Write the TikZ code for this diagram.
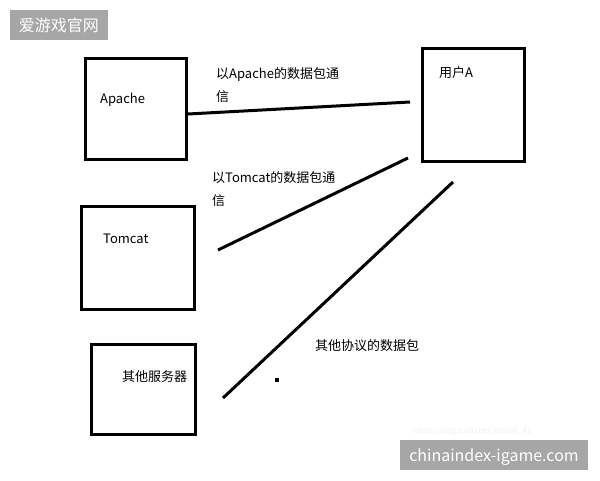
\documentclass[tikz,border=0pt]{standalone}
\usepackage{fontspec}
\setmainfont{Noto Sans CJK SC}

\begin{document}
\begin{tikzpicture}[
            x = 1pt, y = -1pt,
            every node/.style={text depth=0pt, inner sep=0pt},
            box/.style={draw, line width = 3pt, rectangle},
            line/.style={line width = 3pt},
            txt/.style={anchor=west, align=left, font=\fontsize{13}{23}\selectfont},
            stamp/.style={fill=black!35, text=white, inner sep=0pt},
            ]

        \useasboundingbox (0, 0) rectangle (600, 480);

        % servers and user
        \node[box, minimum width=101pt, minimum height=101pt] (apache) at (135.5, 108.5) {};
        \node[box, minimum width=102pt, minimum height=113pt] (user) at (473, 104.5) {};
        \node[box, minimum width=113pt, minimum height=103pt] (tomcat) at (137.5, 257.5) {};
        \node[box, minimum width=104pt, minimum height=90pt] (other) at (143, 389) {};

        \node[txt] (apache-name) at (100, 98) {Apache};
        \node[txt] (user-name) at (439, 72) {用户A};
        \node[txt] (tomcat-name) at (103, 239) {Tomcat};
        \node[txt] (other-name) at (122, 376) {其他服务器};

        % links
        \coordinate (a1) at (188, 114);
        \coordinate (a2) at (410, 102);
        \coordinate (t1) at (218, 250);
        \coordinate (t2) at (408, 158);
        \coordinate (o1) at (223, 398);
        \coordinate (o2) at (453, 182);

        \draw[line] (a1) -- (a2);
        \draw[line] (t1) -- (t2);
        \draw[line] (o1) -- (o2);

        \node[txt, anchor=north west] (apache-msg) at (216, 67) {以Apache的数据包通\\信};
        \node[txt, anchor=north west] (tomcat-msg) at (212, 171) {以Tomcat的数据包通\\信};
        \node[txt] (other-msg) at (315, 345) {其他协议的数据包};

        \node[fill, minimum size=4pt] (dot) at (277, 380) {};

        % watermarks
        \node[anchor=west, text=black!6, font=\fontsize{8}{8}\selectfont] (url) at (412, 430) {https://blog.csdn.net/weixin\_41};
        \node[stamp, minimum width=98pt, minimum height=30pt, font=\fontsize{16}{16}\selectfont] (site-cn) at (59, 25) {爱游戏官网};
        \node[stamp, minimum width=188pt, minimum height=30pt, font=\fontsize{16}{16}\selectfont] (site-en) at (494, 455) {chinaindex-igame.com};
    \end{tikzpicture}
\end{document}
